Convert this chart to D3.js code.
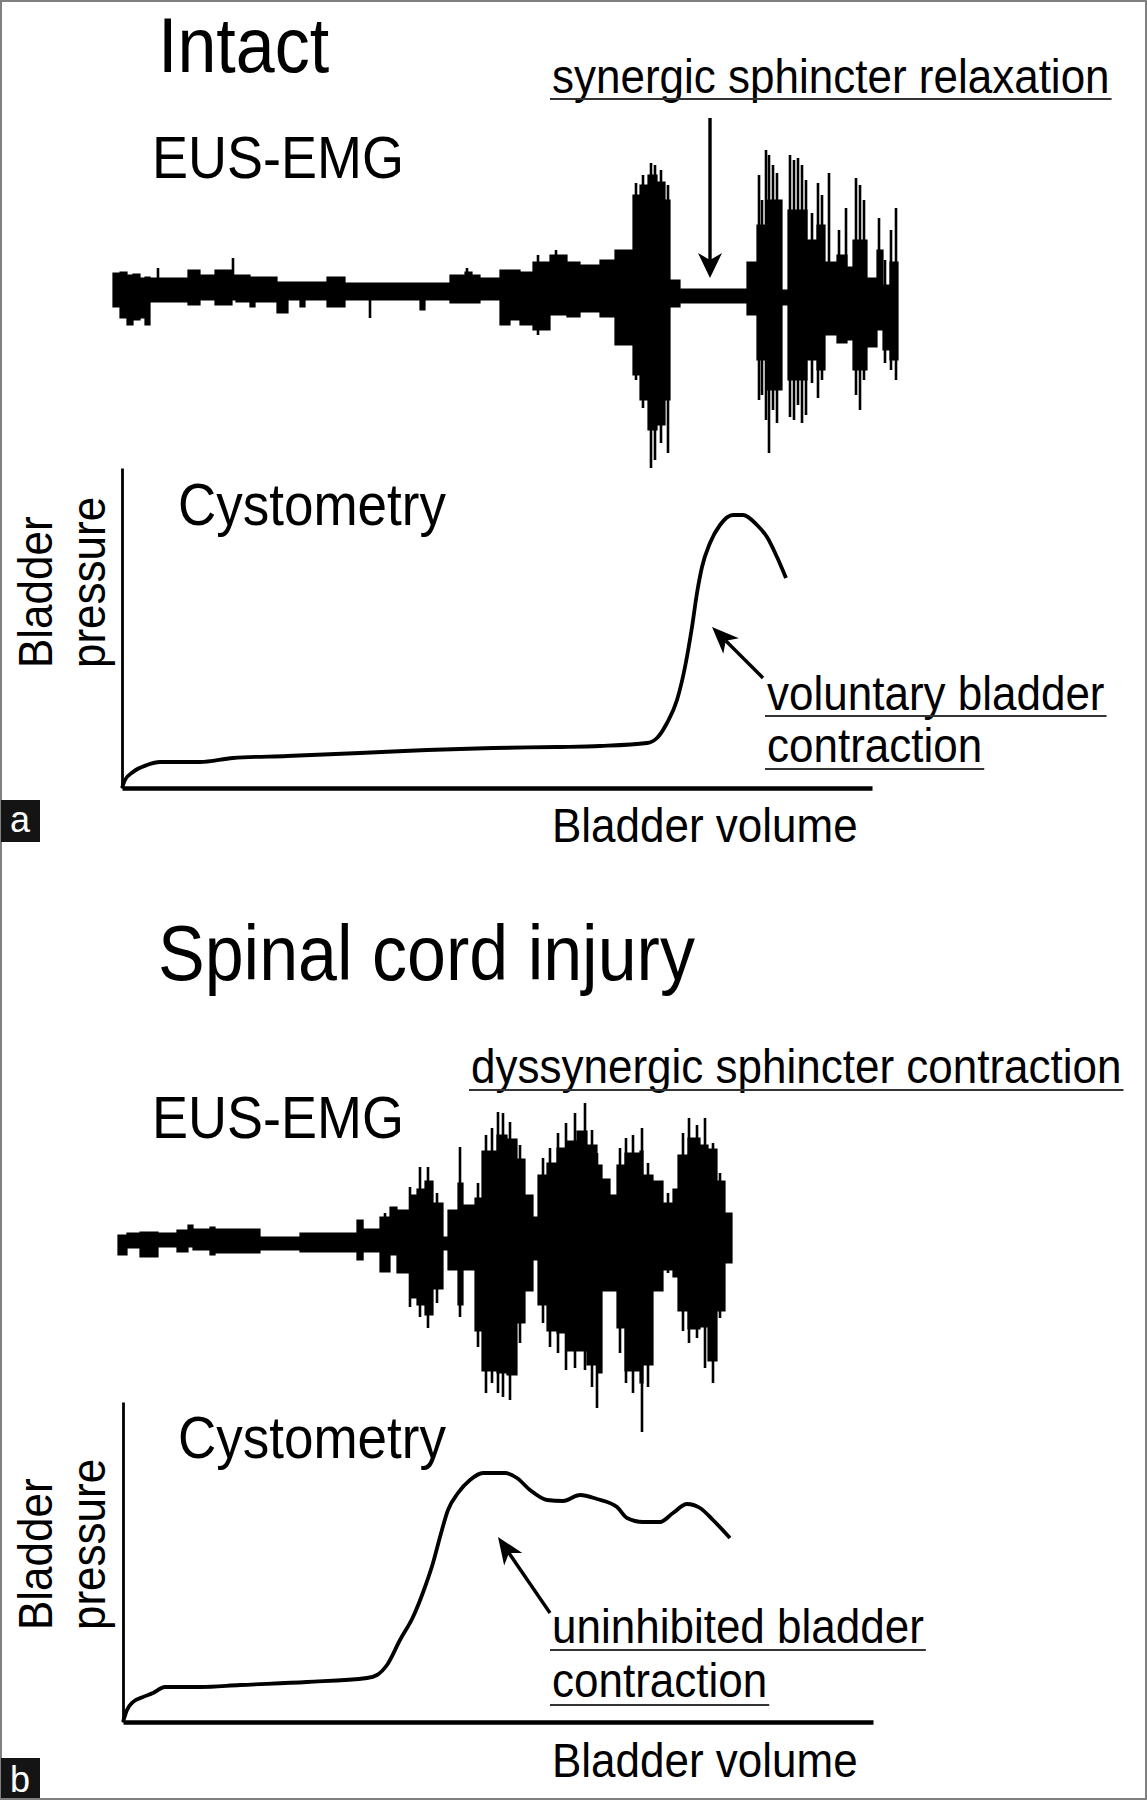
<!DOCTYPE html>
<html>
<head>
<meta charset="utf-8">
<script src="https://cdn.jsdelivr.net/npm/d3@7"></script>
<style>
  body { margin: 0; background: #fff; }
  svg text { font-family: "Liberation Sans", Arial, Helvetica, sans-serif; fill: #000; }
</style>
</head>
<body>
<script>
// ---- EUS-EMG, intact: dense core envelope (time in arb. units, amplitude in arb. units)
const emgIntactT   = [0,7,14,20,27,32,37,49,75,87,102,119,123,137,142,164,175,187,192,214,232,307,312,337,352,359,367,387,397,407,420,437,454,467,487,502,520,527,535,544,552,557,567,634,644,654,669,675,694,704,712,724,734,740,754,764,770,777,785];
const emgIntactTop = [19,20,17,18,14,15,14,14,22,17,22,17,17,15,15,10,10,10,10,15,9,9,9,17,20,17,14,22,22,20,30,37,30,27,32,42,97,107,117,110,92,12,3,30,67,92,2,82,52,67,30,37,25,52,14,42,7,30,30];
const emgIntactBot = [-15,-26,-33,-28,-26,-33,-10,-10,-13,-8,-13,-8,-10,-15,-10,-21,-8,-15,-8,-15,-8,-18,-8,-11,-11,-11,-8,-33,-28,-33,-38,-23,-25,-20,-25,-53,-83,-108,-138,-133,-108,-15,-11,-23,-68,-98,-13,-88,-68,-78,-43,-51,-48,-78,-55,-38,-58,-68,-68];
// single spikes standing out of the core
const spikeIntactT   = [45,120,257,354,425,443,523,530,538,542,548,555,646,649,653,656,660,664,677,681,685,689,693,699,705,709,716,726,733,743,747,751,766,772,778,783];
const spikeIntactTop = [24,34,9,24,37,42,109,117,129,127,122,107,117,92,142,137,127,119,137,132,134,127,112,79,109,97,119,62,84,114,107,92,74,32,62,84];
const spikeIntactBot = [-10,-8,-26,-11,-43,-8,-88,-116,-176,-168,-151,-161,-108,-103,-128,-161,-118,-131,-125,-128,-113,-131,-123,-91,-106,-88,-38,-51,-48,-103,-118,-88,-38,-71,-78,-88];

// ---- EUS-EMG, spinal cord injury
const emgSciT   = [0,9,22,40,59,70,75,92,97,142,182,239,245,262,272,279,292,299,307,315,325,330,340,345,357,364,379,389,399,407,415,420,429,439,449,459,469,479,484,492,499,507,522,525,535,545,555,560,570,582,590,599,607,614];
const emgSciTop = [8,10,11,10,13,18,14,16,14,6,10,23,14,26,36,33,48,54,62,40,6,33,60,38,45,92,108,104,84,48,26,68,80,95,102,112,98,78,64,48,78,90,92,68,62,40,54,88,105,98,94,62,30,30];
const emgSciBot = [-12,-5,-14,-4,-9,-4,-7,-12,-10,-7,-9,-17,-9,-29,-12,-30,-55,-62,-72,-46,-7,-27,-62,-27,-88,-128,-130,-132,-80,-48,-17,-62,-88,-90,-108,-108,-122,-130,-48,-48,-85,-128,-140,-122,-48,-27,-34,-68,-86,-84,-118,-68,-20,-20];
const spikeSciT   = [244,267,292,302,310,319,342,360,368,374,380,385,392,402,425,432,440,448,457,467,474,479,502,508,515,524,530,550,565,571,579,587,595,602];
const spikeSciTop = [23,30,56,76,76,50,96,60,108,115,131,130,121,98,85,95,110,120,130,140,113,90,95,105,108,115,80,50,110,125,118,125,100,70];
const spikeSciBot = [-17,-29,-64,-74,-85,-60,-74,-104,-150,-140,-150,-154,-157,-100,-80,-104,-110,-127,-125,-127,-144,-165,-110,-140,-150,-189,-144,-30,-88,-100,-95,-125,-140,-75];

// ---- Cystometry (bladder volume, bladder pressure)
const cmgIntactVol  = [0,0.6,2.2,5,7.6,15.6,22.2,33,47.6,61,74.2,87,95.6,105,107,109,111,112.6,114,115,116,117.6,119.6,122.2,124.2,127,129,131,132.8];
const cmgIntactPres = [0,1.6,3.2,4.6,5.2,5.2,6,6.4,7,7.6,8,8.2,8.4,9,10,13,17.6,24.2,32.2,39,44.2,49,52.6,54.6,54.6,52.6,50.2,46.2,42];
const cmgSciVol  = [0,0.8,2,4,6,8.4,15.4,23.4,36.8,48.8,50.8,52.8,55.4,58,60.4,62,63.4,65,67,69.4,72,76.4,78.8,81.4,84.8,88,91.4,94.8,98.8,100.8,104,107.4,110,112.8,115.4,118,121.4];
const cmgSciPres = [0,2.4,4,5,5.8,7,7,7.4,8,8.8,9.4,11.4,16.4,21,27,31.8,37,42.4,45.8,48.4,49.8,49.8,48.8,46.4,44.4,44.2,45.4,44.6,43,40.8,40,40,41.8,43.6,42.8,40.4,36.8];

// Annotation arrows, in data units
const arrowIntactEmg = { t: 597, from: 174, to: 14 };
const arrowIntactCmg = { tail: [128.2, 22], tip: [118, 32.2] };
const arrowSciCmg    = { tail: [85.4, 21.8], tip: [75, 37] };

const width = 1147, height = 1800;
const textStretch = 1.1;   // lettering of the original is a little taller than Arial

let svg = d3.select("body").append("svg")
  .attr("width", width)
  .attr("height", height);

// outer frame
svg.append("rect")
  .attr("x", 1).attr("y", 1)
  .attr("width", width - 2).attr("height", height - 2)
  .attr("fill", "#fff")
  .attr("stroke", "#808080")
  .attr("stroke-width", 2);

function label(x, y, txt, size) {
  return svg.append("text")
    .attr("transform", "translate(" + x + "," + y + ") scale(1," + textStretch + ")")
    .attr("font-size", size + "px")
    .text(txt);
}

// text with a drawn underline below it
function underlined(x, y, txt, dy) {
  let t = label(x, y, txt, 44);
  let len = t.node().getComputedTextLength();
  svg.append("line")
    .attr("x1", x - 2).attr("x2", x + len + 2)
    .attr("y1", y + dy).attr("y2", y + dy)
    .attr("stroke", "#333")
    .attr("stroke-width", 2);
}

// line with a notched, filled arrow head at the tip
function arrow(x1, y1, x2, y2, headLen, headW) {
  let dx = x2 - x1, dy = y2 - y1;
  let L = Math.sqrt(dx * dx + dy * dy);
  let ux = dx / L, uy = dy / L;
  let px = -uy, py = ux;
  let bx = x2 - ux * headLen, by = y2 - uy * headLen;
  let nx = x2 - ux * headLen * 0.72, ny = y2 - uy * headLen * 0.72;
  svg.append("line")
    .attr("x1", x1).attr("y1", y1)
    .attr("x2", nx).attr("y2", ny)
    .attr("stroke", "#000")
    .attr("stroke-width", 3.4);
  svg.append("path")
    .attr("d", "M" + x2 + "," + y2 +
      " L" + (bx + px * headW) + "," + (by + py * headW) +
      " L" + nx + "," + ny +
      " L" + (bx - px * headW) + "," + (by - py * headW) + " Z")
    .attr("fill", "#000");
}

function panel(cfg) {
  // EMG trace: stepped core envelope around the baseline plus single spikes
  let tx = d3.scaleLinear()
    .domain([0, d3.max(cfg.emgT)])
    .range(cfg.emgRange);
  let ay = d3.scaleLinear()
    .domain([-200, 200])
    .range([cfg.emgBase + 200, cfg.emgBase - 200]);

  let emgArea = d3.area()
    .x(function(d, i) { return tx(cfg.emgT[i]); })
    .y0(function(d, i) { return ay(cfg.emgBot[i]); })
    .y1(function(d, i) { return ay(cfg.emgTop[i]); })
    .curve(d3.curveStepAfter);

  svg.append("path")
    .datum(cfg.emgT)
    .attr("d", emgArea)
    .attr("fill", "#000")
    .attr("stroke", "#000")
    .attr("stroke-width", 1.2);

  svg.append("g").selectAll("line")
    .data(cfg.spikeT)
    .join("line")
    .attr("x1", function(d) { return tx(d); })
    .attr("x2", function(d) { return tx(d); })
    .attr("y1", function(d, i) { return ay(cfg.spikeTop[i]); })
    .attr("y2", function(d, i) { return ay(cfg.spikeBot[i]); })
    .attr("stroke", "#000")
    .attr("stroke-width", 2.6);

  // Cystometry axes
  let vx = d3.scaleLinear().domain([0, 150]).range([cfg.ox, cfg.ox + 750]);
  let py = d3.scaleLinear().domain([0, 64]).range([cfg.oy, cfg.oy - 320]);

  let xAxis = svg.append("g")
    .attr("transform", "translate(0," + cfg.oy + ")")
    .call(d3.axisBottom(vx).ticks(0).tickSizeOuter(0));
  xAxis.select(".domain").attr("stroke", "#000").attr("stroke-width", 4.5);

  let yAxis = svg.append("g")
    .attr("transform", "translate(" + cfg.ox + ",0)")
    .call(d3.axisLeft(py).ticks(0).tickSizeOuter(0));
  yAxis.select(".domain").attr("stroke", "#000").attr("stroke-width", 2.8);

  let line = d3.line()
    .x(function(d, i) { return vx(cfg.vol[i]); })
    .y(function(d, i) { return py(cfg.pres[i]); })
    .curve(d3.curveMonotoneX);

  svg.append("path")
    .datum(cfg.vol)
    .attr("d", line)
    .attr("fill", "none")
    .attr("stroke", "#000")
    .attr("stroke-width", 3.8)
    .attr("stroke-linejoin", "round");

  arrow(vx(cfg.arrow.tail[0]), py(cfg.arrow.tail[1]),
        vx(cfg.arrow.tip[0]), py(cfg.arrow.tip[1]), 27, 11);

  // rotated y title
  svg.append("text")
    .attr("transform", "translate(52," + cfg.presY + ") rotate(-90) scale(1," + textStretch + ")")
    .attr("font-size", "44px")
    .text("Bladder");
  svg.append("text")
    .attr("transform", "translate(105," + cfg.presY + ") rotate(-90) scale(1," + textStretch + ")")
    .attr("font-size", "44px")
    .text("pressure");

  return { tx: tx, ay: ay };
}

// ---------- panel a : intact
let a = panel({
  emgT: emgIntactT, emgTop: emgIntactTop, emgBot: emgIntactBot,
  spikeT: spikeIntactT, spikeTop: spikeIntactTop, spikeBot: spikeIntactBot,
  emgRange: [113, 898], emgBase: 292,
  vol: cmgIntactVol, pres: cmgIntactPres,
  ox: 122, oy: 788, presY: 668,
  arrow: arrowIntactCmg
});

label(158, 72, "Intact", 70);
underlined(552, 93, "synergic sphincter relaxation", 6);
label(152, 178, "EUS-EMG", 54);
label(178, 525, "Cystometry", 53);
underlined(767, 710, "voluntary bladder", 6);
underlined(767, 762, "contraction", 7);
label(552, 842, "Bladder volume", 44);

arrow(a.tx(arrowIntactEmg.t), a.ay(arrowIntactEmg.from),
      a.tx(arrowIntactEmg.t), a.ay(arrowIntactEmg.to), 25, 12);

// ---------- panel b : spinal cord injury
panel({
  emgT: emgSciT, emgTop: emgSciTop, emgBot: emgSciBot,
  spikeT: spikeSciT, spikeTop: spikeSciTop, spikeBot: spikeSciBot,
  emgRange: [118, 732], emgBase: 1243,
  vol: cmgSciVol, pres: cmgSciPres,
  ox: 123, oy: 1722, presY: 1630,
  arrow: arrowSciCmg
});

label(158, 980, "Spinal cord injury", 70);
underlined(471, 1083, "dyssynergic sphincter contraction", 7);
label(152, 1138, "EUS-EMG", 54);
label(178, 1458, "Cystometry", 53);
underlined(552, 1643, "uninhibited bladder", 7);
underlined(552, 1697, "contraction", 8);
label(552, 1777, "Bladder volume", 44);

// panel letters
[["a", 800, 42, 832], ["b", 1758, 40, 1792]].forEach(function(p) {
  svg.append("rect")
    .attr("x", 1).attr("y", p[1])
    .attr("width", 39).attr("height", p[2])
    .attr("fill", "#141414");
  svg.append("text")
    .attr("x", 20).attr("y", p[3])
    .attr("text-anchor", "middle")
    .attr("font-size", "36px")
    .style("fill", "#fff")
    .text(p[0]);
});
</script>
</body>
</html>
